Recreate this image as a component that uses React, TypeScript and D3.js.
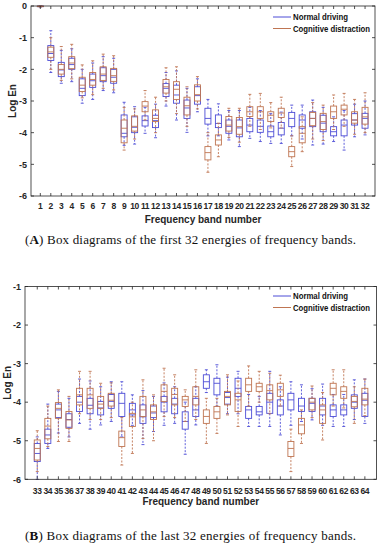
import React from 'react';
import * as d3 from 'd3';

// each box: [lower whisker, q1, median, q3, upper whisker]
type Box = [number, number, number, number, number];

const bandsFirst = [1, 2, 3, 4, 5, 6, 7, 8, 9, 10, 11, 12, 13, 14, 15, 16, 17, 18, 19, 20, 21, 22, 23, 24, 25, 26, 27, 28, 29, 30, 31, 32];
const bandsLast = [33, 34, 35, 36, 37, 38, 39, 40, 41, 42, 43, 44, 45, 46, 47, 48, 49, 50, 51, 52, 53, 54, 55, 56, 57, 58, 59, 60, 61, 62, 63, 64];

const yTicksFirst = [0, -1, -2, -3, -4, -5, -6];
const yTicksLast = [-1, -2, -3, -4, -5, -6];

const seriesNames = ['Normal driving', 'Cognitive distraction'];

const normalFirst: Box[] = [
  [-0.03, -0.015, -0.01, -0.005, 0],
  [-2.1, -1.72, -1.5, -1.25, -0.78],
  [-2.44, -2.23, -2.02, -1.78, -1.4],
  [-2.39, -2.0, -1.85, -1.65, -1.35],
  [-3.07, -2.83, -2.6, -2.3, -2.0],
  [-2.95, -2.57, -2.36, -2.15, -1.8],
  [-2.67, -2.39, -2.2, -1.95, -1.6],
  [-2.74, -2.44, -2.25, -2.0, -1.65],
  [-4.4, -4.13, -4.02, -3.44, -3.04],
  [-4.36, -4.0, -3.83, -3.5, -3.18],
  [-4.02, -3.79, -3.62, -3.47, -3.2],
  [-4.16, -3.84, -3.62, -3.45, -3.1],
  [-3.16, -2.86, -2.6, -2.45, -2.1],
  [-3.6, -3.07, -2.81, -2.5, -2.05],
  [-3.99, -3.55, -3.22, -2.97, -2.6],
  [-3.34, -3.1, -2.83, -2.55, -2.3],
  [-4.1, -3.73, -3.55, -3.23, -2.95],
  [-4.1, -3.84, -3.71, -3.44, -3.09],
  [-4.23, -4.02, -3.8, -3.6, -3.3],
  [-4.44, -4.13, -3.85, -3.6, -3.3],
  [-4.18, -3.97, -3.76, -3.55, -3.2],
  [-4.28, -3.99, -3.8, -3.6, -3.3],
  [-4.34, -4.13, -3.97, -3.79, -3.4],
  [-4.34, -4.07, -3.86, -3.68, -3.35],
  [-4.1, -3.81, -3.55, -3.36, -3.13],
  [-4.2, -3.86, -3.6, -3.44, -3.13],
  [-4.39, -3.81, -3.55, -3.34, -2.97],
  [-4.36, -3.97, -3.7, -3.45, -3.2],
  [-4.28, -4.1, -3.97, -3.81, -3.5],
  [-4.55, -4.1, -3.76, -3.6, -3.3],
  [-4.13, -3.76, -3.6, -3.4, -3.1],
  [-4.07, -3.86, -3.55, -3.39, -3.0],
];

const distractFirst: Box[] = [
  [-0.03, -0.015, -0.01, -0.005, 0],
  [-2.0, -1.62, -1.45, -1.3, -1.0],
  [-2.35, -2.15, -2.0, -1.85, -1.28],
  [-2.3, -1.98, -1.8, -1.6, -1.21],
  [-2.9, -2.7, -2.5, -2.25, -1.86],
  [-2.8, -2.5, -2.32, -2.1, -1.73],
  [-2.6, -2.35, -2.15, -1.92, -1.52],
  [-2.65, -2.38, -2.2, -1.97, -1.57],
  [-4.55, -4.32, -3.86, -3.6, -3.2],
  [-4.2, -3.95, -3.8, -3.47, -3.25],
  [-3.6, -3.34, -3.16, -3.02, -2.67],
  [-4.0, -3.65, -3.55, -3.28, -2.88],
  [-3.0, -2.75, -2.55, -2.32, -1.95],
  [-3.4, -2.95, -2.63, -2.39, -1.92],
  [-3.8, -3.44, -3.15, -2.88, -2.55],
  [-3.25, -3.0, -2.8, -2.49, -2.23],
  [-5.25, -4.86, -4.63, -4.44, -4.0],
  [-4.76, -4.39, -4.23, -4.07, -3.7],
  [-4.15, -3.95, -3.76, -3.49, -3.23],
  [-4.3, -4.05, -3.81, -3.52, -3.23],
  [-3.8, -3.49, -3.34, -3.18, -2.79],
  [-3.9, -3.55, -3.34, -3.18, -2.76],
  [-3.85, -3.65, -3.45, -3.34, -3.05],
  [-3.85, -3.52, -3.38, -3.23, -2.88],
  [-5.07, -4.76, -4.6, -4.44, -4.1],
  [-4.6, -4.32, -4.02, -3.81, -3.5],
  [-4.2, -3.78, -3.55, -3.36, -3.05],
  [-4.25, -3.9, -3.65, -3.39, -3.13],
  [-3.9, -3.55, -3.34, -3.16, -2.81],
  [-3.8, -3.44, -3.26, -3.13, -2.76],
  [-4.05, -3.7, -3.6, -3.34, -2.95],
  [-4.0, -3.73, -3.5, -3.2, -2.74],
];

const normalLast: Box[] = [
  [-6.0, -5.54, -5.33, -5.07, -4.9],
  [-5.2, -5.07, -4.85, -4.7, -4.05],
  [-4.8, -4.4, -4.2, -4.05, -3.72],
  [-4.9, -4.65, -4.45, -4.3, -3.9],
  [-4.55, -4.24, -4.0, -3.85, -3.4],
  [-4.7, -4.3, -4.08, -3.9, -3.45],
  [-4.59, -4.33, -4.15, -3.98, -3.6],
  [-4.5, -4.16, -3.98, -3.8, -3.47],
  [-4.9, -4.37, -4.03, -3.77, -3.47],
  [-4.6, -4.33, -4.2, -4.03, -3.81],
  [-5.1, -4.55, -4.38, -4.07, -3.7],
  [-4.76, -4.4, -4.28, -4.1, -3.85],
  [-4.6, -4.25, -4.0, -3.85, -3.5],
  [-4.55, -4.3, -4.05, -3.9, -3.6],
  [-5.35, -4.7, -4.5, -4.25, -4.0],
  [-4.59, -4.37, -4.2, -3.9, -3.6],
  [-3.75, -3.64, -3.47, -3.29, -3.16],
  [-4.1, -3.81, -3.51, -3.38, -3.03],
  [-4.3, -4.05, -3.88, -3.75, -3.35],
  [-4.3, -3.85, -3.64, -3.38, -3.2],
  [-4.63, -4.42, -4.2, -4.11, -3.8],
  [-4.63, -4.33, -4.25, -4.11, -3.85],
  [-4.63, -4.29, -4.0, -3.77, -3.2],
  [-4.85, -4.33, -4.1, -3.94, -3.6],
  [-4.6, -4.2, -3.94, -3.77, -3.47],
  [-4.5, -4.24, -4.1, -3.9, -3.55],
  [-4.46, -4.24, -4.03, -3.9, -3.65],
  [-4.6, -4.33, -4.1, -3.9, -3.53],
  [-4.63, -4.37, -4.2, -4.07, -3.8],
  [-4.63, -4.33, -4.2, -4.07, -3.8],
  [-4.45, -4.16, -4.0, -3.81, -3.42],
  [-4.55, -4.37, -3.95, -3.77, -3.4],
];

const distractLast: Box[] = [
  [-5.8, -5.5, -5.2, -4.98, -4.74],
  [-5.15, -4.95, -4.62, -4.42, -4.1],
  [-5.02, -4.42, -4.16, -4.01, -3.68],
  [-5.02, -4.68, -4.46, -4.24, -3.85],
  [-4.3, -4.07, -3.81, -3.64, -3.2],
  [-4.45, -4.16, -3.81, -3.64, -3.2],
  [-4.45, -4.16, -4.05, -3.85, -3.51],
  [-4.4, -4.1, -3.95, -3.77, -3.5],
  [-5.63, -5.15, -4.92, -4.75, -4.4],
  [-5.33, -4.63, -4.38, -4.29, -4.0],
  [-4.94, -4.37, -4.2, -3.85, -3.42],
  [-5.0, -4.45, -4.25, -4.07, -3.81],
  [-4.37, -3.98, -3.72, -3.55, -3.12],
  [-4.4, -4.07, -3.8, -3.64, -3.29],
  [-4.5, -4.11, -3.94, -3.85, -3.68],
  [-4.45, -4.07, -3.85, -3.6, -3.16],
  [-5.07, -4.55, -4.37, -4.2, -3.9],
  [-4.81, -4.42, -4.25, -4.11, -3.9],
  [-4.33, -4.07, -3.85, -3.72, -3.29],
  [-4.63, -4.24, -3.94, -3.77, -3.45],
  [-4.1, -3.72, -3.55, -3.38, -3.06],
  [-4.0, -3.72, -3.6, -3.51, -3.2],
  [-4.3, -3.94, -3.7, -3.55, -3.25],
  [-4.1, -3.85, -3.68, -3.51, -3.3],
  [-5.8, -5.41, -5.2, -5.02, -4.7],
  [-5.07, -4.82, -4.59, -4.42, -4.2],
  [-4.4, -4.2, -4.0, -3.9, -3.58],
  [-4.98, -4.55, -4.2, -4.07, -3.75],
  [-4.1, -3.81, -3.64, -3.51, -3.16],
  [-4.15, -3.9, -3.72, -3.6, -3.16],
  [-4.55, -4.12, -3.98, -3.85, -3.6],
  [-4.35, -4.07, -3.92, -3.64, -3.4],
];

const BLUE = '#4d4dd6';
const RED = '#bf7552';
const AXIS = '#262626';
const SANS = 'Liberation Sans, Arial, sans-serif';
const SERIF = 'Liberation Serif, Times New Roman, serif';

type Frame = { left: number; right: number; top: number; bottom: number };

function Boxes({ data, bands, x, y, color }: any) {
  return (
    <g stroke={color} fill="none" strokeWidth={0.9}>
      {data.map((d: Box, i: number) => {
        const cx = x(bands[i]);
        const [lo, q1, med, q3, hi] = d;
        return (
          <g key={i}>
            <line x1={cx} x2={cx} y1={y(q3)} y2={y(hi)} strokeDasharray="2,1.5" />
            <line x1={cx} x2={cx} y1={y(q1)} y2={y(lo)} strokeDasharray="2,1.5" />
            <line x1={cx - 1.5} x2={cx + 1.5} y1={y(hi)} y2={y(hi)} />
            <line x1={cx - 1.5} x2={cx + 1.5} y1={y(lo)} y2={y(lo)} />
            <rect x={cx - 3} y={y(q3)} width={6} height={Math.max(0.5, y(q1) - y(q3))} />
            <line x1={cx - 3} x2={cx + 3} y1={y(med)} y2={y(med)} />
          </g>
        );
      })}
    </g>
  );
}

function Panel({ bands, normal, distract, yTicks, frame, xDomain, yDomain, legendY, tickY, labelY, ylabelX, caption, captionY, tag }: any) {
  const f: Frame = frame;
  const x = d3.scaleLinear().domain(xDomain).range([f.left, f.right]);
  const y = d3.scaleLinear().domain(yDomain).range([f.bottom, f.top]);
  const tl = 3;
  const legendW = [55, 77];
  return (
    <g>
      <Boxes data={normal} bands={bands} x={x} y={y} color={BLUE} />
      <Boxes data={distract} bands={bands} x={x} y={y} color={RED} />
      <g stroke={AXIS} strokeWidth={0.8}>
        <rect x={f.left} y={f.top} width={f.right - f.left} height={f.bottom - f.top} fill="none" />
        {bands.map((b: number) => (
          <g key={b}>
            <line x1={x(b)} x2={x(b)} y1={f.bottom} y2={f.bottom - tl} />
            <line x1={x(b)} x2={x(b)} y1={f.top} y2={f.top + tl} />
          </g>
        ))}
        {yTicks.map((t: number) => (
          <g key={t}>
            <line x1={f.left} x2={f.left + tl} y1={y(t)} y2={y(t)} />
            <line x1={f.right} x2={f.right - tl} y1={y(t)} y2={y(t)} />
          </g>
        ))}
      </g>
      <g fontFamily={SANS} fontWeight="bold" fontSize={8.5} fill={AXIS}>
        {yTicks.map((t: number) => (
          <text key={t} x={f.left - 4} y={y(t) + 3.2} textAnchor="end" fontSize={9}>{t}</text>
        ))}
        {bands.map((b: number) => (
          <text key={b} x={x(b)} y={tickY} textAnchor="middle" letterSpacing={-0.3}>{b}</text>
        ))}
        <text x={(f.left + f.right) / 2} y={labelY} textAnchor="middle" fontSize={10}>Frequency band number</text>
        <text transform={`translate(${ylabelX},${(f.top + f.bottom) / 2}) rotate(-90)`} textAnchor="middle" fontSize={10}>Log En</text>
      </g>
      <g fontFamily={SANS} fontWeight="bold" fontSize={8.5} fill="#111">
        {seriesNames.map((s, i) => (
          <g key={s}>
            <line x1={273} x2={291} y1={legendY + i * 11.5} y2={legendY + i * 11.5} stroke={i === 0 ? BLUE : RED} strokeWidth={1} />
            <text x={293} y={legendY + i * 11.5 + 3} textLength={legendW[i]} lengthAdjust="spacingAndGlyphs">{s}</text>
          </g>
        ))}
      </g>
      <text x={25} y={captionY} fontFamily={SERIF} fontSize={13} fill="#111" textLength={331} lengthAdjust="spacing">
        (<tspan fontWeight="bold">{tag}</tspan>) {caption}
      </text>
    </g>
  );
}

export default function App() {
  return (
    <svg width={386} height={550} style={{ position: 'absolute', left: 0, top: 0, background: '#fff' }}>
      <Panel
        bands={bandsFirst}
        normal={normalFirst}
        distract={distractFirst}
        yTicks={yTicksFirst}
        frame={{ left: 31, right: 375, top: 6, bottom: 196 }}
        xDomain={[0.11, 32.95]}
        yDomain={[-6, 0]}
        legendY={17}
        tickY={209}
        labelY={223}
        ylabelX={16}
        tag="A"
        caption="Box diagrams of the first 32 energies of frequency bands."
        captionY={244}
      />
      <Panel
        bands={bandsLast}
        normal={normalLast}
        distract={distractLast}
        yTicks={yTicksLast}
        frame={{ left: 25, right: 376.5, top: 286.5, bottom: 479.3 }}
        xDomain={[31.84, 65.1]}
        yDomain={[-6, -1]}
        legendY={296}
        tickY={493.5}
        labelY={504.5}
        ylabelX={11}
        tag="B"
        caption="Box diagrams of the last 32 energies of frequency bands."
        captionY={540}
      />
    </svg>
  );
}
